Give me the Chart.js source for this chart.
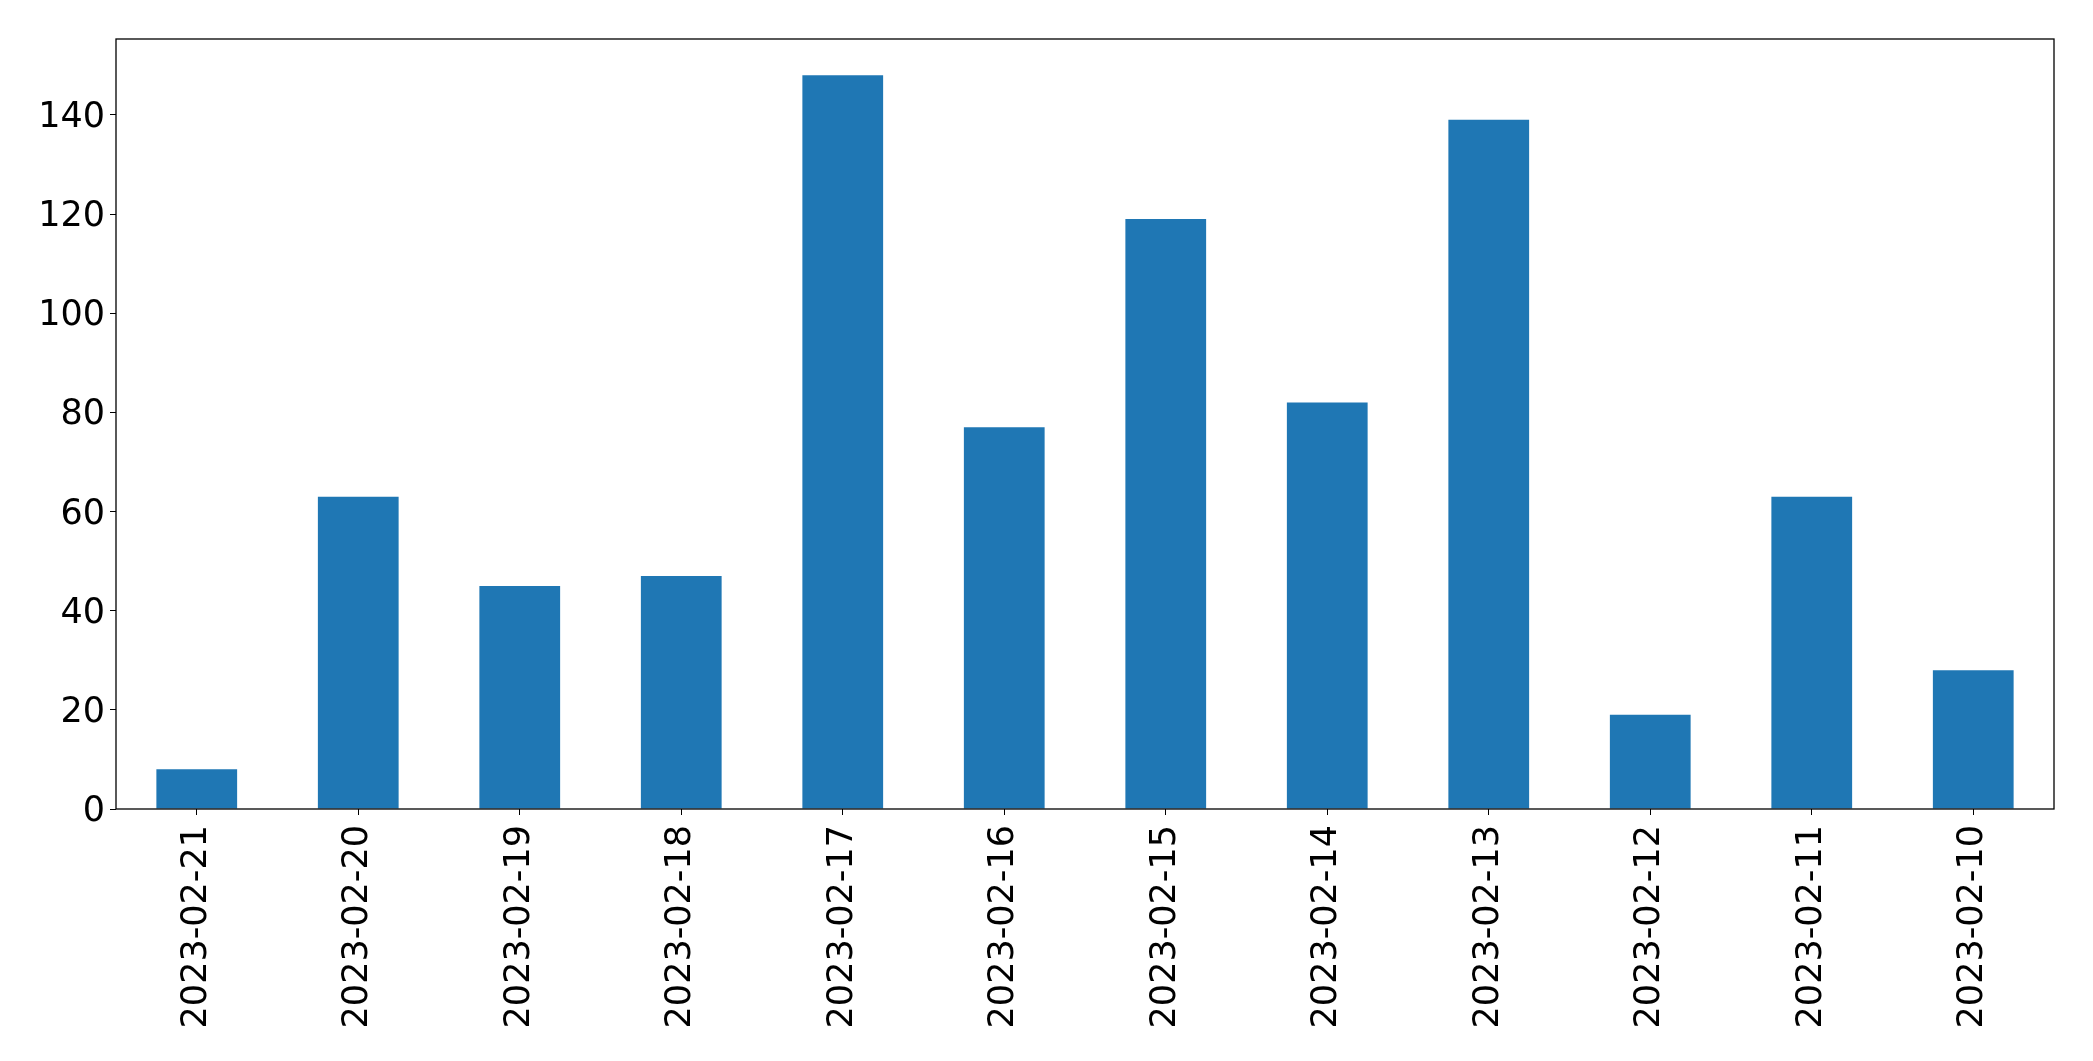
<!DOCTYPE html>
<html>
<head>
<meta charset="utf-8">
<script src="https://cdn.jsdelivr.net/npm/chart.js@4.4.0/dist/chart.umd.min.js"></script>
<style>
    html, body { margin: 0; padding: 0; background: #fff; }
    #wrap { width: 2093px; height: 1061px; }
</style>
</head>
<body>
<div id="wrap"><canvas id="myChart" width="2093" height="1061"></canvas></div>
<script>
const dates = ['2023-02-21', '2023-02-20', '2023-02-19', '2023-02-18', '2023-02-17', '2023-02-16',
               '2023-02-15', '2023-02-14', '2023-02-13', '2023-02-12', '2023-02-11', '2023-02-10'];
const counts = [8, 63, 45, 47, 148, 77, 119, 82, 139, 19, 63, 28];
const y_ticks = [0, 20, 40, 60, 80, 100, 120, 140];

// frame around the plot area, like matplotlib spines
const frame = {
    id: 'frame',
    afterDraw(chart) {
        const a = chart.chartArea;
        const ctx = chart.ctx;
        ctx.save();
        ctx.strokeStyle = '#000';
        ctx.lineWidth = 1.3;
        ctx.strokeRect(a.left, a.top, a.right - a.left, a.bottom - a.top);
        ctx.restore();
    }
};

const font = { family: 'DejaVu Sans', size: 35 };

new Chart(document.getElementById('myChart'), {
    type: 'bar',
    data: {
        labels: dates,
        datasets: [{
            data: counts,
            backgroundColor: '#1f77b4',
            borderWidth: 0,
            categoryPercentage: 0.5,
            barPercentage: 1.0
        }]
    },
    plugins: [frame],
    options: {
        responsive: false,
        animation: false,
        layout: { padding: { top: 39, right: 39, left: 0, bottom: 0 } },
        plugins: {
            legend: { display: false },
            tooltip: { enabled: false }
        },
        scales: {
            x: {
                afterFit(scale) { scale.height = 252; },
                grid: { offset: false, drawOnChartArea: false, drawTicks: true, tickLength: 6, tickColor: '#000' },
                border: { display: false },
                ticks: {
                    color: '#000',
                    font: font,
                    minRotation: 90,
                    maxRotation: 90,
                    autoSkip: false,
                    padding: 10
                }
            },
            y: {
                min: 0,
                max: 155.3,
                afterFit(scale) { scale.width = 116; },
                afterBuildTicks(scale) {
                    scale.ticks = y_ticks.map(v => ({ value: v }));
                },
                grid: { drawOnChartArea: false, drawTicks: true, tickLength: 6, tickColor: '#000' },
                border: { display: false },
                ticks: {
                    color: '#000',
                    font: font,
                    padding: 5,
                    labelOffset: 3
                }
            }
        }
    }
});
</script>
</body>
</html>
